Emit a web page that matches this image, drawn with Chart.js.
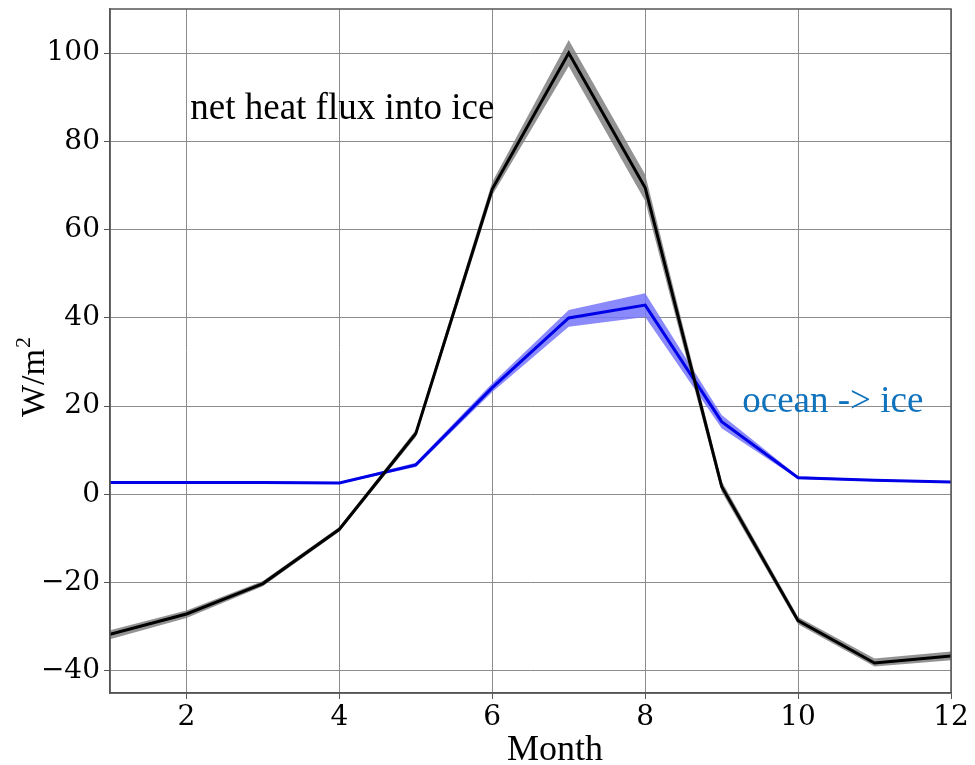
<!DOCTYPE html>
<html>
<head>
<meta charset="utf-8">
<script src="https://cdn.jsdelivr.net/npm/chart.js@4.4.0/dist/chart.umd.min.js"></script>
<style>
  html, body { margin: 0; padding: 0; background: #ffffff; }
  #wrap { width: 975px; height: 765px; }
</style>
</head>
<body>
<div id="wrap"><canvas id="c" width="975" height="765"></canvas></div>
<script>
// Monthly climatology of surface heat fluxes (W/m^2)
const months = [1, 2, 3, 4, 5, 6, 7, 8, 9, 10, 11, 12];

// net heat flux into ice: mean and spread envelope
const netFlux      = [-31.7, -27.1, -20.2, -7.9, 13.8, 69.2, 100.0, 69.5, 1.8, -28.6, -38.2, -36.6];
const netFluxLow   = [-32.8, -28.0, -20.8, -8.4, 13.0, 67.8,  97.0, 66.5, 0.6, -29.4, -39.0, -37.6];
const netFluxHigh  = [-30.8, -26.3, -19.6, -7.4, 14.6, 70.8, 103.0, 72.5, 3.0, -27.8, -37.2, -35.6];

// ocean -> ice heat flux: mean and spread envelope
const oceanFlux     = [2.7, 2.7, 2.7, 2.6, 6.7, 24.2, 40.0, 42.9, 16.5, 3.8, 3.2, 2.8];
const oceanFluxLow  = [2.5, 2.5, 2.5, 2.4, 6.2, 23.2, 38.0, 40.2, 15.0, 3.5, 3.0, 2.6];
const oceanFluxHigh = [2.9, 2.9, 2.9, 2.8, 7.2, 25.2, 41.8, 45.6, 18.0, 4.1, 3.4, 3.0];

const xTicks = [2, 4, 6, 8, 10, 12];
const yTicks = [-40, -20, 0, 20, 40, 60, 80, 100];

const pts = (vals) => months.map((m, i) => ({ x: m, y: vals[i] }));

const SERIF = '"Liberation Serif", "Times New Roman", serif';
const TICKFONT = '"DejaVu Serif", serif';

// text labels placed in data coordinates
const annotations = [
  { text: 'net heat flux into ice', x: 2.05, y: 85.0, color: '#000000' },
  { text: 'ocean -> ice', x: 9.27, y: 18.7, color: '#0f72bd' }
];

const textPlugin = {
  id: 'textLabels',
  afterDatasetsDraw(chart) {
    const { ctx, scales, chartArea } = chart;
    ctx.save();
    // frame around the plotting area
    ctx.strokeStyle = '#555555';
    ctx.lineWidth = 1.5;
    ctx.strokeRect(chartArea.left, chartArea.top, chartArea.right - chartArea.left, chartArea.bottom - chartArea.top);
    ctx.font = '37px ' + SERIF;
    ctx.textBaseline = 'alphabetic';
    ctx.textAlign = 'left';
    annotations.forEach(a => {
      ctx.fillStyle = a.color;
      ctx.fillText(a.text, scales.x.getPixelForValue(a.x), scales.y.getPixelForValue(a.y));
    });
    ctx.restore();
  },
  afterDraw(chart) {
    const { ctx } = chart;
    ctx.save();
    ctx.fillStyle = '#000000';
    // x axis title
    ctx.font = '36px ' + SERIF;
    ctx.textAlign = 'center';
    ctx.textBaseline = 'alphabetic';
    ctx.fillText('Month', 555, 760);
    // y axis title with superscript
    ctx.translate(44, 383);
    ctx.rotate(-Math.PI / 2);
    ctx.textAlign = 'center';
    ctx.font = '34px ' + SERIF;
    ctx.fillText('W/m', 0, 0);
    const w = ctx.measureText('W/m').width;
    ctx.font = '22px ' + SERIF;
    ctx.textAlign = 'left';
    ctx.fillText('2', w / 2 + 1, -14);
    ctx.restore();
  }
};

new Chart(document.getElementById('c'), {
  type: 'line',
  data: {
    datasets: [
      { label: 'net low', data: pts(netFluxLow), borderWidth: 0, pointRadius: 0, fill: false, order: 2 },
      { label: 'net band', data: pts(netFluxHigh), borderWidth: 0, pointRadius: 0,
        fill: { target: 0 }, backgroundColor: 'rgba(128,128,128,0.85)', order: 2 },
      { label: 'net heat flux into ice', data: pts(netFlux), borderColor: '#000000', borderWidth: 3,
        pointRadius: 0, fill: false, order: 0 },
      { label: 'ocean low', data: pts(oceanFluxLow), borderWidth: 0, pointRadius: 0, fill: false, order: 3 },
      { label: 'ocean band', data: pts(oceanFluxHigh), borderWidth: 0, pointRadius: 0,
        fill: { target: 3 }, backgroundColor: 'rgba(118,118,250,0.85)', order: 3 },
      { label: 'ocean -> ice', data: pts(oceanFlux), borderColor: '#0000e6', borderWidth: 3,
        pointRadius: 0, fill: false, order: 1 }
    ]
  },
  options: {
    responsive: false,
    animation: false,
    devicePixelRatio: 1,
    layout: { padding: { top: 9, right: 24, left: 0, bottom: 0 } },
    plugins: { legend: { display: false }, tooltip: { enabled: false } },
    elements: { line: { tension: 0 } },
    scales: {
      x: {
        type: 'linear',
        min: 1, max: 12,
        afterBuildTicks: (s) => { s.ticks = xTicks.map(v => ({ value: v })); },
        afterFit: (s) => { s.height = 72; s.paddingLeft = 0; s.paddingRight = 0; },
        grid: { color: '#8c8c8c', lineWidth: 1, tickLength: 6, tickColor: '#555' },
        border: { color: '#555555', width: 1.5 },
        ticks: { color: '#000', font: { family: TICKFONT, size: 28 }, padding: 2, maxRotation: 0 }
      },
      y: {
        type: 'linear',
        min: -45, max: 110,
        afterBuildTicks: (s) => { s.ticks = yTicks.map(v => ({ value: v })); },
        afterFit: (s) => { s.width = 110; s.paddingTop = 0; s.paddingBottom = 0; },
        grid: { color: '#8c8c8c', lineWidth: 1, tickLength: 6, tickColor: '#555' },
        border: { color: '#555555', width: 1.5 },
        ticks: {
          color: '#000', font: { family: TICKFONT, size: 28 }, padding: 4,
          callback: (v) => (v < 0 ? '\u2212' + Math.abs(v) : String(v))
        }
      }
    }
  },
  plugins: [textPlugin]
});
</script>
</body>
</html>
